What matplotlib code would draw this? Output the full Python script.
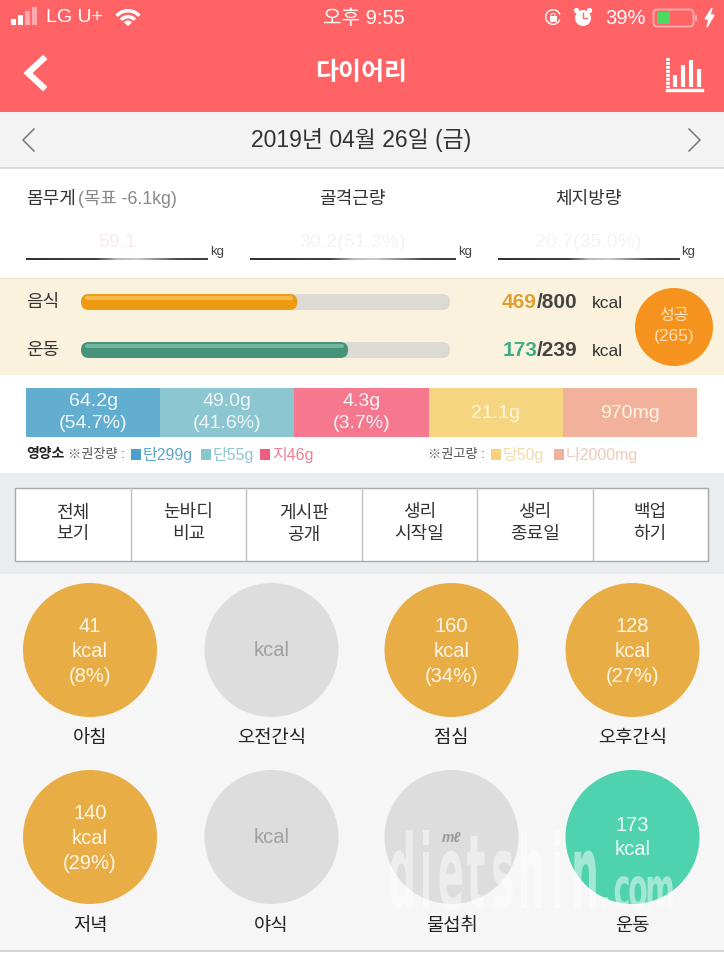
import matplotlib
matplotlib.use('Agg')
import matplotlib.pyplot as plt
import matplotlib.patheffects as pe
from matplotlib.patches import Rectangle, Circle, FancyBboxPatch, Wedge
from matplotlib.transforms import Affine2D

plt.rcParams['font.family'] = ['Liberation Sans', 'Noto Sans CJK KR', 'DejaVu Sans']

# 섭취 / 운동 막대
bar_labels = ['음식', '운동']
bar_values = [469, 173]
bar_goals = [800, 239]

# 영양소
macro_top = ['64.2g', '49.0g', '4.3g', '21.1g', '970mg']
macro_pct = ['(54.7%)', '(41.6%)', '(3.7%)', '', '']
macro_colors = ['#62aed1', '#8cc6d0', '#f6788e', '#f6d580', '#f2b19a']

# 끼니별 칼로리
meal_names = ['아침', '오전간식', '점심', '오후간식', '저녁', '야식', '물섭취', '운동']
meal_kcal = [41, None, 160, 128, 140, None, None, 173]
meal_pct = [8, None, 34, 27, 29, None, None, None]

body_labels = ['몸무게', '골격근량', '체지방량']
body_values = ['59.1', '30.2(51.3%)', '20.7(35.0%)']
menu_top = ['전체', '눈바디', '게시판', '생리', '생리', '백업']
menu_bottom = ['보기', '비교', '공개', '시작일', '종료일', '하기']

RED = '#ff6366'
W, H = 724, 960
fig = plt.figure(figsize=(7.24, 9.6), dpi=100)
ax = fig.add_axes([0, 0, 1, 1])
ax.set_xlim(0, W)
ax.set_ylim(H, 0)
ax.axis('off')


def box(x, y, w, h, c, z=1):
    ax.add_patch(Rectangle((x, y), w, h, fc=c, ec='none', zorder=z))


def label(x, y, s, size, c='#333333', ha='center', z=5, **kw):
    return ax.text(x, y + 1.5, s, fontsize=size, color=c, ha=ha, va='center', zorder=z, **kw)


class Squeeze(pe.AbstractPathEffect):
    # 글자를 가로로 좁힌다 (워터마크용)
    def __init__(self, sx, x0):
        super().__init__()
        self.sx = sx
        self.x0 = x0

    def draw_path(self, renderer, gc, tpath, affine, rgb_face=None):
        t = affine + Affine2D().translate(-self.x0, 0).scale(self.sx, 1).translate(self.x0, 0)
        renderer.draw_path(gc, tpath, t, rgb_face)


# 배경
box(0, 0, W, 112, RED)
box(0, 112, W, 56, '#f3f3f3')
box(0, 168, W, 110, 'white')
box(0, 278, W, 97, '#fbf2de')
box(0, 375, W, 98, 'white')
box(0, 473, W, 101, '#e9edf0')
box(0, 574, W, 376, '#f6f6f6')
box(0, 950, W, 10, 'white')
ax.plot([0, W], [168, 168], color='#d6d6d6', lw=1.2, zorder=2)
ax.plot([0, W], [950.5, 950.5], color='#cccccc', lw=1.2, zorder=2)
ax.plot([0, W], [278, 278], color='#efe6d2', lw=1, zorder=2)

# 상태 표시줄
for i, (a, hh) in enumerate(zip([1, 1, .45, .45], [6, 10, 14, 18])):
    box(11 + i * 7, 25 - hh, 5, hh, 'white', 3)
    ax.patches[-1].set_alpha(a)
label(74, 16.5, 'LG U+', 14, 'white')
for r, wd in [(17, 3.5), (11, 3.5), (5.5, 5.5)]:
    ax.add_patch(Wedge((128, 26), r, 222, 318, width=wd, fc='white', ec='none', zorder=3))
label(364, 16.5, '오후 9:55', 14.5, 'white')
ax.add_patch(Wedge((553, 17), 8, 20, 340, width=1.4, fc='white', ec='none', zorder=3))
box(549.5, 15.5, 7, 6, 'white', 3)
ax.add_patch(Wedge((553, 15.5), 2.6, 180, 360, width=1, fc='white', ec='none', zorder=3))
ax.add_patch(Circle((583, 18), 8, fc='white', ec='none', zorder=3))
ax.add_patch(Circle((576.5, 10.5), 2.6, fc='white', ec='none', zorder=3))
ax.add_patch(Circle((589.5, 10.5), 2.6, fc='white', ec='none', zorder=3))
ax.plot([583, 583, 587], [13, 18, 18], color=RED, lw=1, zorder=4)
label(625, 16.5, '39%', 14.5, 'white')
ax.add_patch(FancyBboxPatch((653.5, 9.5), 40, 17, boxstyle='round,pad=0,rounding_size=4', fc='none', ec='#ffb0b0', lw=1.3, zorder=3))
box(695, 15, 2, 6, '#ffb0b0', 3)
box(657, 12, 13, 12, '#4cd964', 4)
ax.fill([712, 705, 709, 707, 714, 710], [8, 19, 19, 27, 15, 15], color='white', zorder=3)

# 헤더
ax.plot([43, 28, 43], [59, 73, 87], color='white', lw=4.5, zorder=3, solid_joinstyle='miter')
label(361, 71, '다이어리', 18, 'white', fontweight='bold')
ax.plot([668, 668], [58, 88], color='white', lw=2.6, zorder=3, linestyle=(0, (.8, .3)))
ax.plot([667, 702], [90, 90], color='white', lw=2.4, zorder=3)
for x, top in zip([675, 683, 691, 699], [75, 65, 60, 69]):
    ax.plot([x, x], [top, 87], color='white', lw=3, zorder=3, solid_capstyle='butt')

# 날짜
ax.plot([34, 23, 34], [129, 140, 151], color='#777777', lw=1.1, zorder=3)
ax.plot([689, 700, 689], [129, 140, 151], color='#777777', lw=1.1, zorder=3)
label(361, 139, '2019년 04월 26일 (금)', 16.5, '#333333')

# 신체 수치
label(26, 198, body_labels[0], 13, '#333333', ha='left')
label(78, 198, '(목표 -6.1kg)', 12.8, '#888888', ha='left')
label(352, 198, body_labels[1], 13)
label(588, 198, body_labels[2], 13)
line_fade = [[.2, .22, .25, .25, .72, .8, .55, .3, .25]]
for x0, x1, kx, tx, s in zip([26, 250, 498], [208, 456, 680], [217, 465, 688], [117, 352, 588], body_values):
    ax.imshow(line_fade, extent=(x0, x1, 260, 258), cmap='gray', vmin=0, vmax=1,
              aspect='auto', zorder=3, interpolation='bilinear')
    label(kx, 250, 'kg', 9.5, '#444444')
    label(tx, 241, s, 14, '#f8e9ec' if x0 == 26 else '#f3f3f3')
ax.set_xlim(0, W)
ax.set_ylim(H, 0)

# 음식 / 운동 진행 막대
bar_x, bar_w, bar_h = 81, 369, 16
bar_ys = [302, 350]
fill_colors = ['#ee9a10', '#46927a']
shine_colors = ['#f7b84e', '#74b59e']
num_colors = ['#e0a030', '#3fae86']
for name, val, goal, y, fc, sc, nc in zip(bar_labels, bar_values, bar_goals, bar_ys, fill_colors, shine_colors, num_colors):
    label(43, y - 1.5, name, 13, '#333333')
    ax.add_patch(FancyBboxPatch((bar_x, y - bar_h / 2), bar_w, bar_h, boxstyle='round,pad=0,rounding_size=8',
                                fc='#dcdad5', ec='none', zorder=3))
    w = bar_w * val / goal
    ax.add_patch(FancyBboxPatch((bar_x, y - bar_h / 2), w, bar_h, boxstyle='round,pad=0,rounding_size=8',
                                fc=fc, ec='none', zorder=4))
    ax.plot([bar_x + 6, bar_x + w - 6], [y - 4.5, y - 4.5], color=sc, lw=3, zorder=5, solid_capstyle='round')
    label(537, y - .5, f'{val}', 15, nc, ha='right', fontweight='bold')
    label(537, y - .5, f'/{goal}', 15, '#444444', ha='left', fontweight='bold')
    label(592, y - .5, 'kcal', 12.5, '#333333', ha='left')
ax.add_patch(Circle((674, 327), 39, fc='#f6931f', ec='none', zorder=3))
label(674, 314, '성공', 11.5, '#ffe0b8')
label(674, 335, '(265)', 12.5, '#ffe0b8')

# 영양소 누적 막대 (칸 너비는 모두 같음)
left = 26
seg = (697 - left) / len(macro_top)
for i, (t, p, c) in enumerate(zip(macro_top, macro_pct, macro_colors)):
    x = left + i * seg
    ax.barh(412.5, seg, height=49, left=x, color=c, zorder=3)
    cx = x + seg / 2
    if p:
        label(cx, 399.5, t, 14, '#eef6fa')
        label(cx, 422.5, p, 14, '#eef6fa')
    else:
        label(cx, 411.5, t, 14, '#fdf6e6')
ax.set_xlim(0, W)
ax.set_ylim(H, 0)

# 영양소 범례
label(26, 452.5, '영양소', 10, '#222222', ha='left', fontweight='bold')
label(68, 453.5, '※권장량 :', 9.5, '#555555', ha='left')
label(428, 453.5, '※권고량 :', 9.5, '#555555', ha='left')
legend_x = [131, 201, 260, 491, 554]
legend_tx = ['탄299g', '단55g', '지46g', '당50g', '나2000mg']
legend_c = ['#4d9fd0', '#86c8d0', '#ef5f7d', '#f8d27a', '#f2b19a']
legend_tc = ['#5da5c8', '#8cc6d0', '#ee7f96', '#f0dca8', '#eec9b8']
for x, s, c, tc in zip(legend_x, legend_tx, legend_c, legend_tc):
    box(x, 449, 10, 11, c, 3)
    label(x + 12, 453.5, s, 11.5, tc, ha='left')

# 메뉴 표
menu_x0, menu_w = 15, 693
ax.add_patch(Rectangle((menu_x0, 488), menu_w, 72.5, fc='white', ec='#a9a9a9', lw=1, zorder=3))
for i, (s1, s2) in enumerate(zip(menu_top, menu_bottom)):
    cw = menu_w / len(menu_top)
    if i:
        ax.plot([menu_x0 + i * cw] * 2, [488, 560], color='#c0c0c0', lw=1, zorder=4)
    label(menu_x0 + (i + .5) * cw, 511.5, s1, 13, '#333333')
    label(menu_x0 + (i + .5) * cw, 533.5, s2, 13, '#333333')

# 끼니 원
col_x = [90, 271.5, 451.5, 632.5]
row_y = [650, 837]
name_y = [737, 925]
for i, name in enumerate(meal_names):
    cx, cy, ny = col_x[i % 4], row_y[i // 4], name_y[i // 4]
    kcal, pct = meal_kcal[i], meal_pct[i]
    if name == '운동':
        c = '#4fd3ae'
    elif kcal is not None:
        c = '#e9ad45'
    else:
        c = '#dddddd'
    ax.add_patch(Circle((cx, cy), 67, fc=c, ec='none', zorder=3))
    label(cx, ny, name, 13.5, '#222222')
    if kcal is None:
        if name == '물섭취':
            label(cx, cy - 1, 'mℓ', 10, '#999999', fontweight='bold', style='italic')
        else:
            label(cx, cy - 1, 'kcal', 14.5, '#a0a0a0')
    elif pct is None:
        label(cx, cy - 13, str(kcal), 14.5, '#f2fbf8')
        label(cx, cy + 11, 'kcal', 14.5, '#f2fbf8')
    else:
        label(cx, cy - 25, str(kcal), 14.5, '#fff6e6')
        label(cx, cy, 'kcal', 14.5, '#fff6e6')
        label(cx, cy + 25, f'({pct}%)', 14.5, '#fff6e6')

# 워터마크: 글자별로 좁혀서 찍는다
wm_letters = ['d', 'i', 'e', 't', 's', 'h', 'i', 'n']
wm_x = [402, 426, 451, 476, 503, 531, 557, 585]
for ch, x in zip(wm_letters, wm_x):
    t = ax.text(x, 908, ch, fontsize=74, family='DejaVu Sans', fontweight='bold', color='white',
                alpha=.48, ha='center', va='baseline', zorder=6)
    t.set_path_effects([Squeeze(.38, x)])
com_letters = ['.', 'c', 'o', 'm']
com_x = [606, 622, 638, 660]
for ch, x in zip(com_letters, com_x):
    t = ax.text(x, 908, ch, fontsize=41, family='DejaVu Sans', fontweight='bold', color='white',
                alpha=.48, ha='center', va='baseline', zorder=6)
    t.set_path_effects([Squeeze(.5, x)])

fig.savefig('out.png', dpi=100)
